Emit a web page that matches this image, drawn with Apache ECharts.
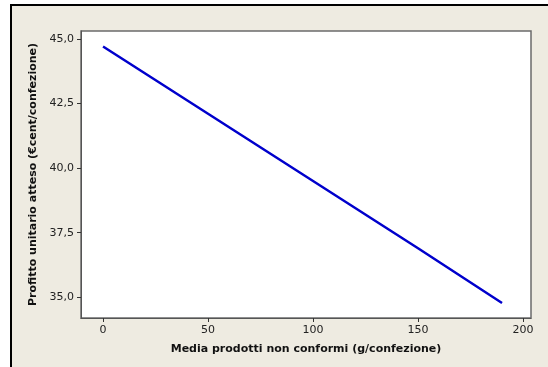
<!DOCTYPE html>
<html>
<head>
<meta charset="utf-8">
<script src="https://cdn.jsdelivr.net/npm/echarts@6/dist/echarts.min.js"></script>
<style>
html,body{margin:0;padding:0;background:#fff;}
#wrap{position:relative;width:548px;height:367px;overflow:hidden;}
#bg{position:absolute;left:10px;top:4px;width:600px;height:400px;background:#EEEBE1;border-left:2px solid #000;border-top:2px solid #000;}
#chart{position:absolute;left:0;top:0;width:548px;height:367px;}
</style>
</head>
<body>
<div id="wrap"><div id="bg"></div><div id="chart"></div></div>
<script>
const xValues = [0, 50, 100, 150, 190];
const yValues = [44.7, 42.1, 39.5, 36.9, 34.78];
const xTicks = [0, 50, 100, 150, 200];
const yTicks = [35, 37.5, 40, 42.5, 45];
const xTitle = 'Media prodotti non conformi (g/confezione)';
const yTitle = 'Profitto unitario atteso (€cent/confezione)';

const chart = echarts.init(document.getElementById('chart'), null, {renderer:'canvas'});
const font = 'DejaVu Sans';
chart.setOption({
  animation:false,
  backgroundColor:'transparent',
  grid:{left:81, right:17, top:31, bottom:49, show:true, backgroundColor:'#fff', borderColor:'#6b6b6b', borderWidth:1.5},
  xAxis:{
    type:'value', min:-10.5, max:203.8,
    name:xTitle, nameLocation:'middle', nameGap:26,
    nameTextStyle:{fontFamily:font, fontWeight:'bold', fontSize:11, color:'#111'},
    axisLine:{show:true, onZero:false, lineStyle:{color:'#555', width:1}},
    axisTick:{show:true, length:4, customValues:xTicks, lineStyle:{color:'#333'}},
    axisLabel:{customValues:xTicks, fontFamily:font, fontSize:11, color:'#222', margin:7},
    splitLine:{show:false}
  },
  yAxis:{
    type:'value', min:34.2, max:45.3,
    name:yTitle, nameLocation:'middle', nameGap:41,
    nameTextStyle:{fontFamily:font, fontWeight:'bold', fontSize:11, color:'#111'},
    axisLine:{show:true, onZero:false, lineStyle:{color:'#555', width:1}},
    axisTick:{show:true, length:4, customValues:yTicks, lineStyle:{color:'#333'}},
    axisLabel:{customValues:yTicks, fontFamily:font, fontSize:11, color:'#222', margin:7,
      formatter:v=>v.toFixed(1).replace('.',',')},
    splitLine:{show:false}
  },
  series:[{
    type:'line', data:xValues.map((x,i)=>[x,yValues[i]]),
    showSymbol:false, symbol:'none',
    lineStyle:{color:'#0000CC', width:2.5}
  }]
});
</script>
</body>
</html>
